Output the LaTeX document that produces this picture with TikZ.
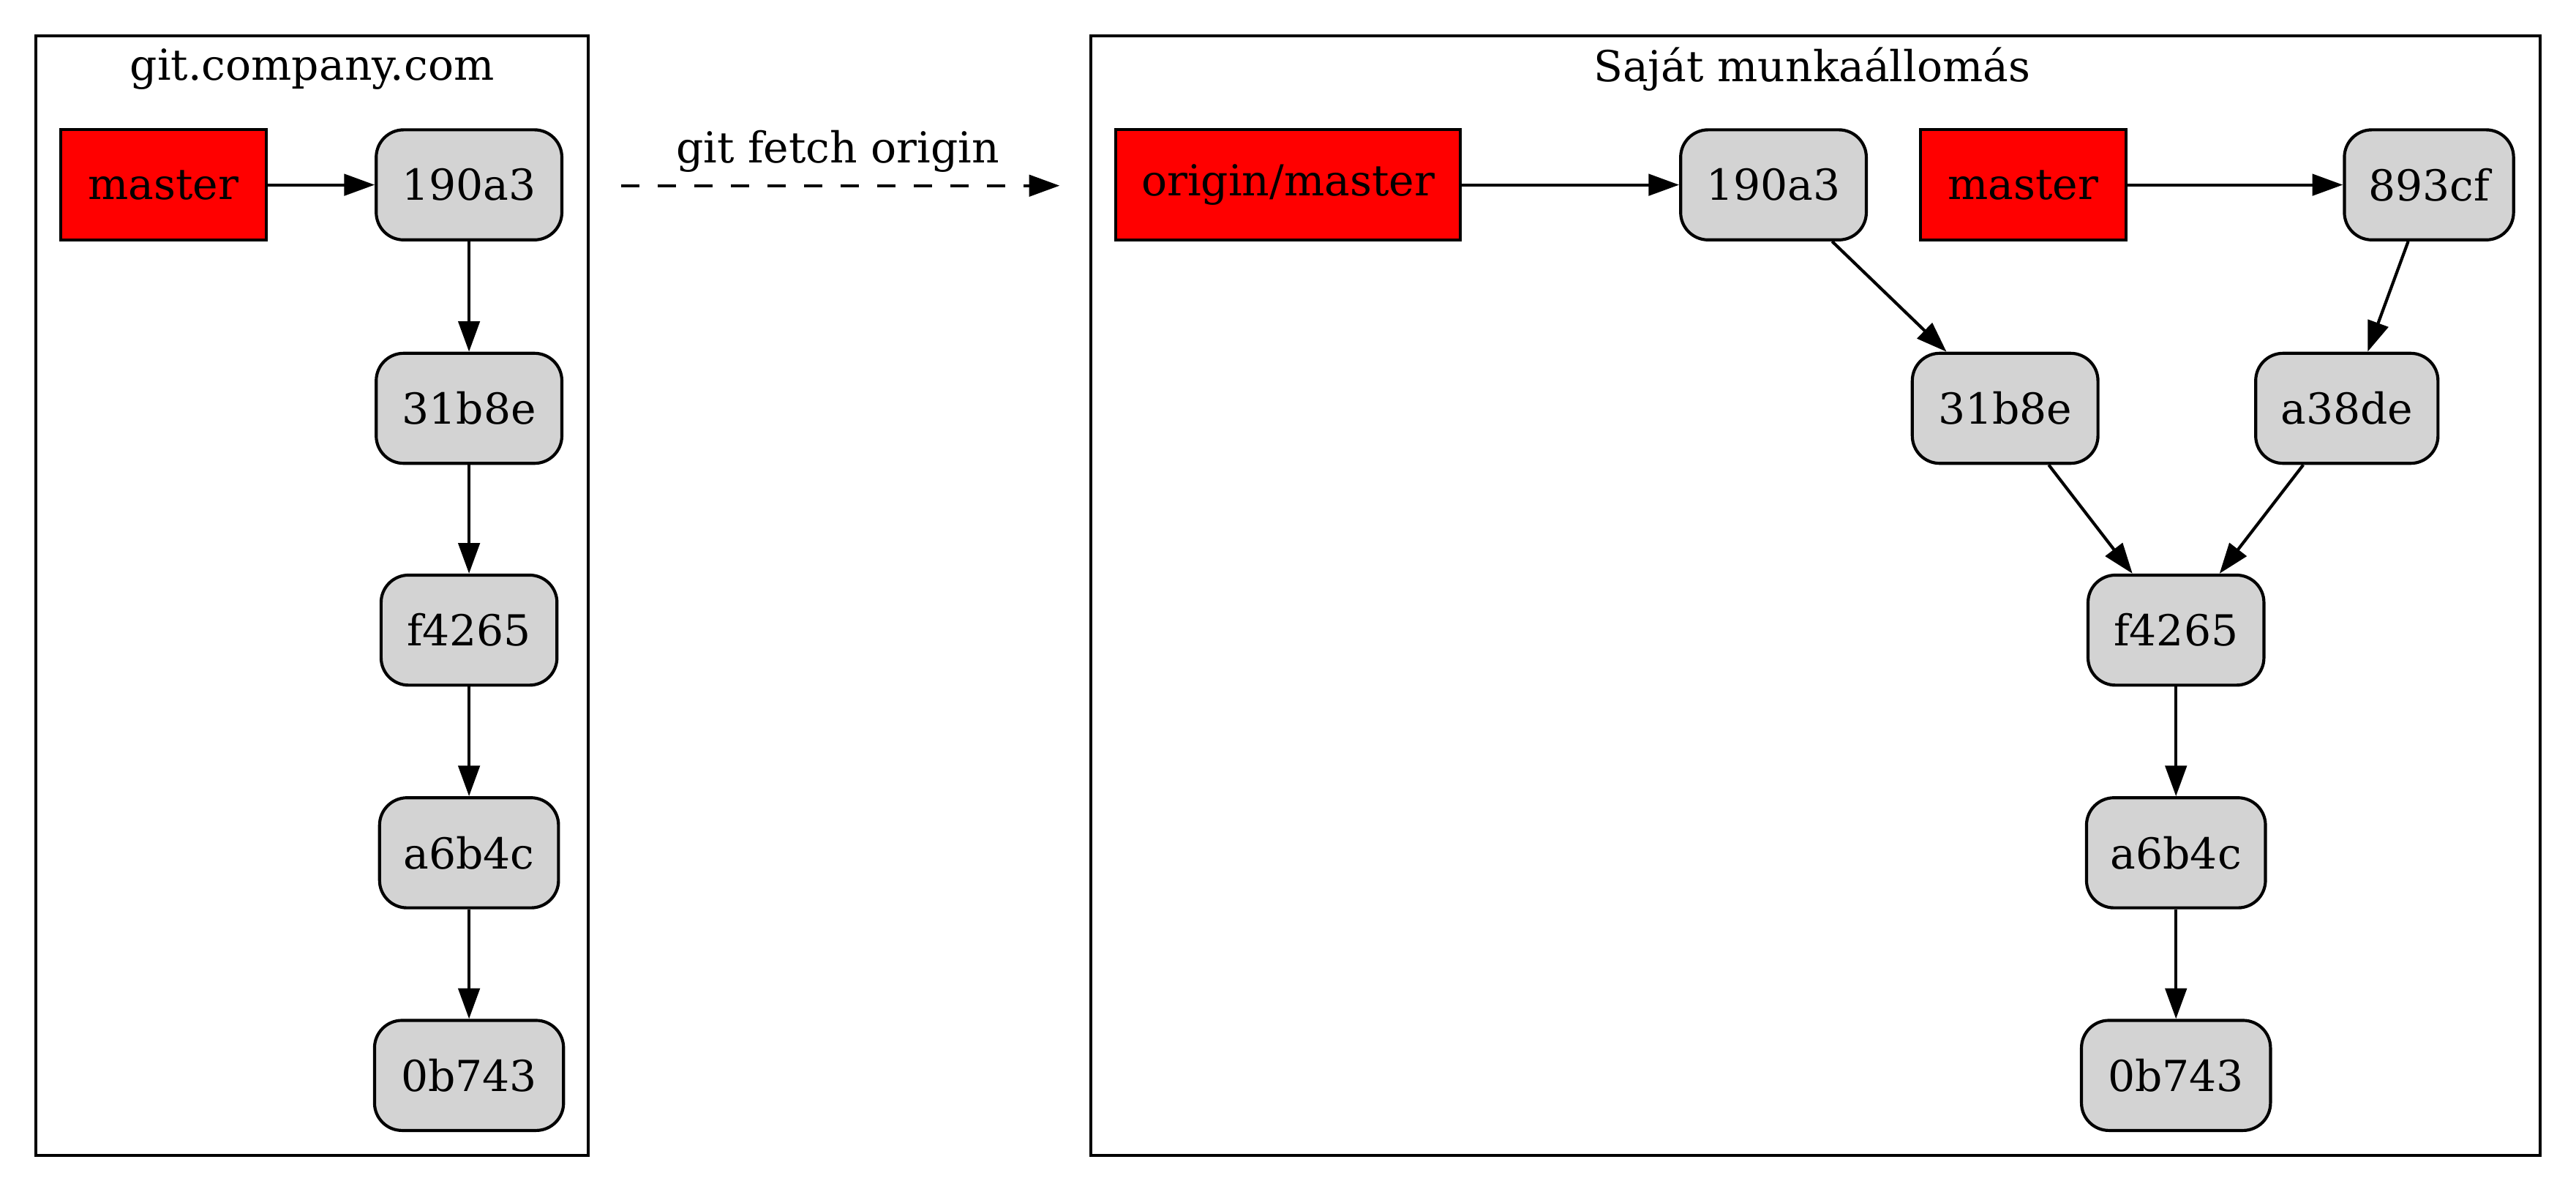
\documentclass[tikz,border=0pt]{standalone}
\usepackage{fontspec}
\setmainfont{DejaVu Serif}
\usetikzlibrary{arrows.meta}
\definecolor{commitgray}{HTML}{D3D3D3}
\definecolor{refred}{HTML}{FF0000}
\begin{document}
\begin{tikzpicture}[x=0.5389pt,y=-0.5389pt,
  every node/.style={font=\fontsize{14pt}{16pt}\selectfont, inner sep=0pt},
  commit/.style={draw, fill=commitgray, rounded corners=9pt, minimum height=36.1pt, minimum width=#1, line width=1pt},
  refbox/.style={draw, fill=refred, minimum height=36.1pt, minimum width=#1, line width=1pt},
  edge/.style={-{Triangle[length=10pt,width=7pt]}, line width=1pt},
  cluster/.style={draw, line width=1pt}]
\useasboundingbox (0,0) rectangle (1568,725.4);
% clusters
\draw[cluster] (22,22) rectangle (358,703);
\node (ltitle) at (190,42) {git.company.com};
\draw[cluster] (664,22) rectangle (1546,703);
\node (rtitle) at (1103,42) {Saját munkaállomás};
% left
\node[refbox=67.4pt] (lmaster) at (99.5,112.5) {master};
\node[commit=60.9pt] (l190) at (285.5,112.5) {190a3};
\node[commit=60.9pt] (l31b) at (285.5,248.5) {31b8e};
\node[commit=57.7pt] (lf42) at (285.5,383.5) {f4265};
\node[commit=58.7pt] (la6b) at (285.5,519) {a6b4c};
\node[commit=62pt] (l0b7) at (285.5,654.5) {0b743};
\draw[edge] (lmaster) -- (l190);
\draw[edge] (l190) -- (l31b);
\draw[edge] (l31b) -- (lf42);
\draw[edge] (lf42) -- (la6b);
\draw[edge] (la6b) -- (l0b7);
% fetch
\coordinate (fa) at (378,113);
\coordinate (fb) at (645,113);
\draw[edge, dash pattern=on 6pt off 6pt] (fa) -- (fb);
\node (flabel) at (510,92) {git fetch origin};
% right
\node[refbox=113.2pt] (rorigin) at (784,112.5) {origin/master};
\node[commit=60.9pt] (r190) at (1079.5,112.5) {190a3};
\node[refbox=67.4pt] (rmaster) at (1231.5,112.5) {master};
\node[commit=55.5pt] (r893) at (1478.5,112.5) {893cf};
\node[commit=60.9pt] (r31b) at (1220.5,248.5) {31b8e};
\node[commit=59.8pt] (ra38) at (1428.5,248.5) {a38de};
\node[commit=57.7pt] (rf42) at (1324.5,383.5) {f4265};
\node[commit=58.7pt] (ra6b) at (1324.5,519) {a6b4c};
\node[commit=62pt] (r0b7) at (1324.5,654.5) {0b743};
\draw[edge] (rorigin) -- (r190);
\draw[edge] (rmaster) -- (r893);
\draw[edge] (r190) -- (r31b);
\draw[edge] (r893) -- (ra38);
\draw[edge] (r31b) -- (rf42);
\draw[edge] (ra38) -- (rf42);
\draw[edge] (rf42) -- (ra6b);
\draw[edge] (ra6b) -- (r0b7);
\end{tikzpicture}
\end{document}
